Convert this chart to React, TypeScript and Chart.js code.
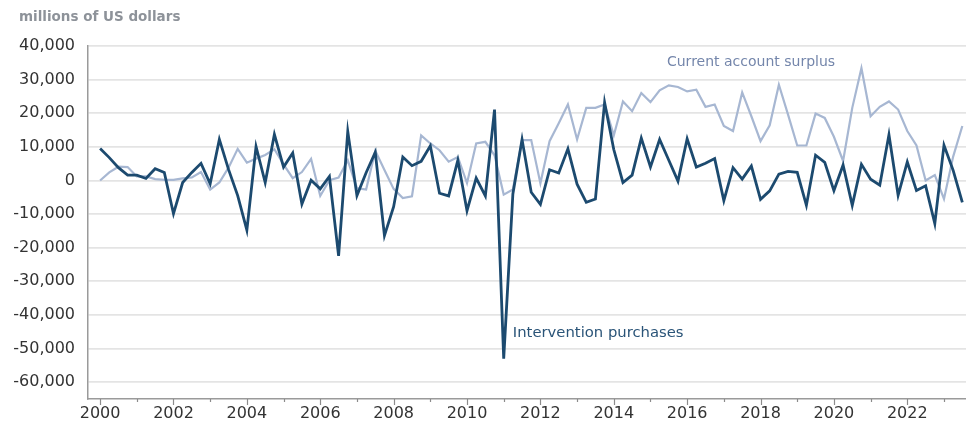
import React, { useEffect, useRef } from "react";
import { Chart, registerables } from "chart.js";

Chart.register(...registerables);

// Quarterly observations, 2000 Q1 – 2023 Q3
const years = [
  2000, 2001, 2002, 2003, 2004, 2005, 2006, 2007, 2008, 2009, 2010, 2011,
  2012, 2013, 2014, 2015, 2016, 2017, 2018, 2019, 2020, 2021, 2022, 2023,
];
const quartersPerYear = ["Q1", "Q2", "Q3", "Q4"];

// Intervention purchases, millions of US dollars
const interventionPurchases = [
  9500, 6800, 3800, 1600, 1600, 600, 3500, 2400,
  -9900, -600, 2400, 5100, -1000, 12200, 3300, -4500,
  -14800, 10100, -600, 13700, 4000, 8200, -7000, 100,
  -2500, 1200, -22400, 14600, -4500, 2300, 8400, -16400,
  -7800, 7000, 4400, 5700, 10300, -3800, -4600, 6000,
  -9000, 700, -4600, 21100, -53000, -4000, 12200, -3500,
  -7100, 3200, 2200, 9400, -1100, -6500, -5500, 23200,
  9200, -600, 1600, 12600, 4000, 12200, 6000, -200,
  12400, 4000, 5100, 6500, -6000, 3800, 400, 4300,
  -5600, -3100, 1900, 2700, 2400, -7400, 7500, 5400,
  -3000, 4600, -7400, 4800, 400, -1400, 13600, -4400,
  5500, -3000, -1600, -12800, 10500, 3000, -6500,
];

// Current account surplus, millions of US dollars
const currentAccountSurplus = [
  0, 2400, 4100, 4000, 1200, 1200, 400, 200,
  200, 600, 900, 2500, -2700, -600, 3800, 9400,
  5300, 6500, 7600, 9300, 4800, 700, 2500, 6400,
  -4600, 100, 900, 6000, -2300, -2700, 8800, 3100,
  -2500, -5200, -4700, 13400, 11000, 9000, 5600, 7000,
  -800, 11000, 11500, 7500, -4200, -2700, 12000, 12000,
  -800, 11700, 17000, 22600, 12200, 21600, 21600, 22600,
  13400, 23500, 20600, 26000, 23300, 26800, 28300, 27800,
  26500, 27000, 21900, 22600, 16200, 14700, 26200, 19100,
  11700, 16400, 28500, 19600, 10400, 10400, 19900, 18600,
  13000, 5800, 21600, 33400, 19100, 21900, 23500, 21100,
  14700, 10400, 0, 1600, -5500, 7100, 16200,
];

const yTicks = [40000, 30000, 20000, 10000, 0, -10000, -20000, -30000, -40000, -50000, -60000];

const axisTitle = "millions of US dollars";
const label1 = "Intervention purchases";
const label2 = "Current account surplus";

const DARK = "#1c4a6f";
const LIGHT = "#a7b7d2";
const FONT = "'DejaVu Sans', sans-serif";

// x positions: year + quarter fraction
const quarterX: number[] = [];
const quarterLabels: string[] = [];
years.forEach((y) => {
  quartersPerYear.forEach((q, qi) => {
    quarterX.push(y + qi / 4);
    quarterLabels.push(`${y}${q}`);
  });
});

const toPoints = (vals: number[]) => vals.map((v, i) => ({ x: quarterX[i], y: v }));

const decorPlugin = {
  id: "decor",
  afterDraw(chart: any) {
    const { ctx, chartArea, scales } = chart;
    const xs = scales.x;
    const ys = scales.y;
    ctx.save();
    // x-axis tick marks (major on even years)
    ctx.strokeStyle = "#8c8c8c";
    ctx.lineWidth = 1.2;
    years.forEach((yr) => {
      const px = Math.round(xs.getPixelForValue(yr)) + 0.5;
      const len = yr % 2 === 0 ? 6 : 3;
      ctx.beginPath();
      ctx.moveTo(px, chartArea.bottom);
      ctx.lineTo(px, chartArea.bottom + len);
      ctx.stroke();
    });
    // axis title
    ctx.fillStyle = "#8d9299";
    ctx.font = `bold 13.5px ${FONT}`;
    ctx.textAlign = "left";
    ctx.textBaseline = "middle";
    ctx.fillText(axisTitle, 19, 17);
    // series annotations
    ctx.font = `14px ${FONT}`;
    ctx.fillStyle = "#7486ab";
    ctx.fillText(label2, xs.getPixelForValue(2015.45), ys.getPixelForValue(35000));
    ctx.font = `14.8px ${FONT}`;
    ctx.fillStyle = "#2a5478";
    ctx.fillText(label1, xs.getPixelForValue(2011.25), ys.getPixelForValue(-45500));
    ctx.restore();
  },
};

export default function App() {
  const ref = useRef<HTMLCanvasElement | null>(null);
  useEffect(() => {
    if (!ref.current) return;
    const chart = new Chart(ref.current, {
      type: "line",
      data: {
        datasets: [
          {
            label: label1,
            data: toPoints(interventionPurchases),
            borderColor: DARK,
            borderWidth: 2.8,
            pointRadius: 0,
            tension: 0,
          },
          {
            label: label2,
            data: toPoints(currentAccountSurplus),
            borderColor: LIGHT,
            borderWidth: 2.2,
            pointRadius: 0,
            tension: 0,
          },
        ],
      },
      options: {
        animation: false,
        responsive: true,
        maintainAspectRatio: false,
        layout: { padding: { top: 46, left: 0, right: 0, bottom: 0 } },
        plugins: {
          legend: { display: false },
          tooltip: { enabled: false },
        },
        scales: {
          x: {
            type: "linear",
            min: 1999.67,
            max: 2023.6,
            afterFit: (s: any) => {
              s.height = 31;
            },
            ticks: {
              stepSize: 1,
              includeBounds: false,
              autoSkip: false,
              maxRotation: 0,
              padding: 5,
              color: "#333333",
              font: { family: FONT, size: 16 },
              callback: (v: any) => (Number(v) % 2 === 0 ? String(v) : ""),
            },
            grid: { display: false, drawTicks: false },
            border: { display: true, color: "#9a9a9a", width: 1.5 },
          },
          y: {
            min: -65000,
            max: 40000,
            afterFit: (s: any) => {
              s.width = 88;
            },
            afterBuildTicks: (s: any) => {
              s.ticks = yTicks.map((v) => ({ value: v }));
            },
            ticks: {
              padding: 13,
              color: "#333333",
              font: { family: FONT, size: 16 },
              callback: (v: any) => Number(v).toLocaleString("en-US"),
            },
            grid: { color: "#e4e4e4", lineWidth: 1.8, drawTicks: false },
            border: { display: true, color: "#9a9a9a", width: 1.5 },
          },
        },
      },
      plugins: [decorPlugin],
    });
    return () => chart.destroy();
  }, []);
  return (
    <div style={{ position: "fixed", left: 0, top: 0, width: 966, height: 430, background: "#fff" }}>
      <canvas ref={ref} />
    </div>
  );
}
